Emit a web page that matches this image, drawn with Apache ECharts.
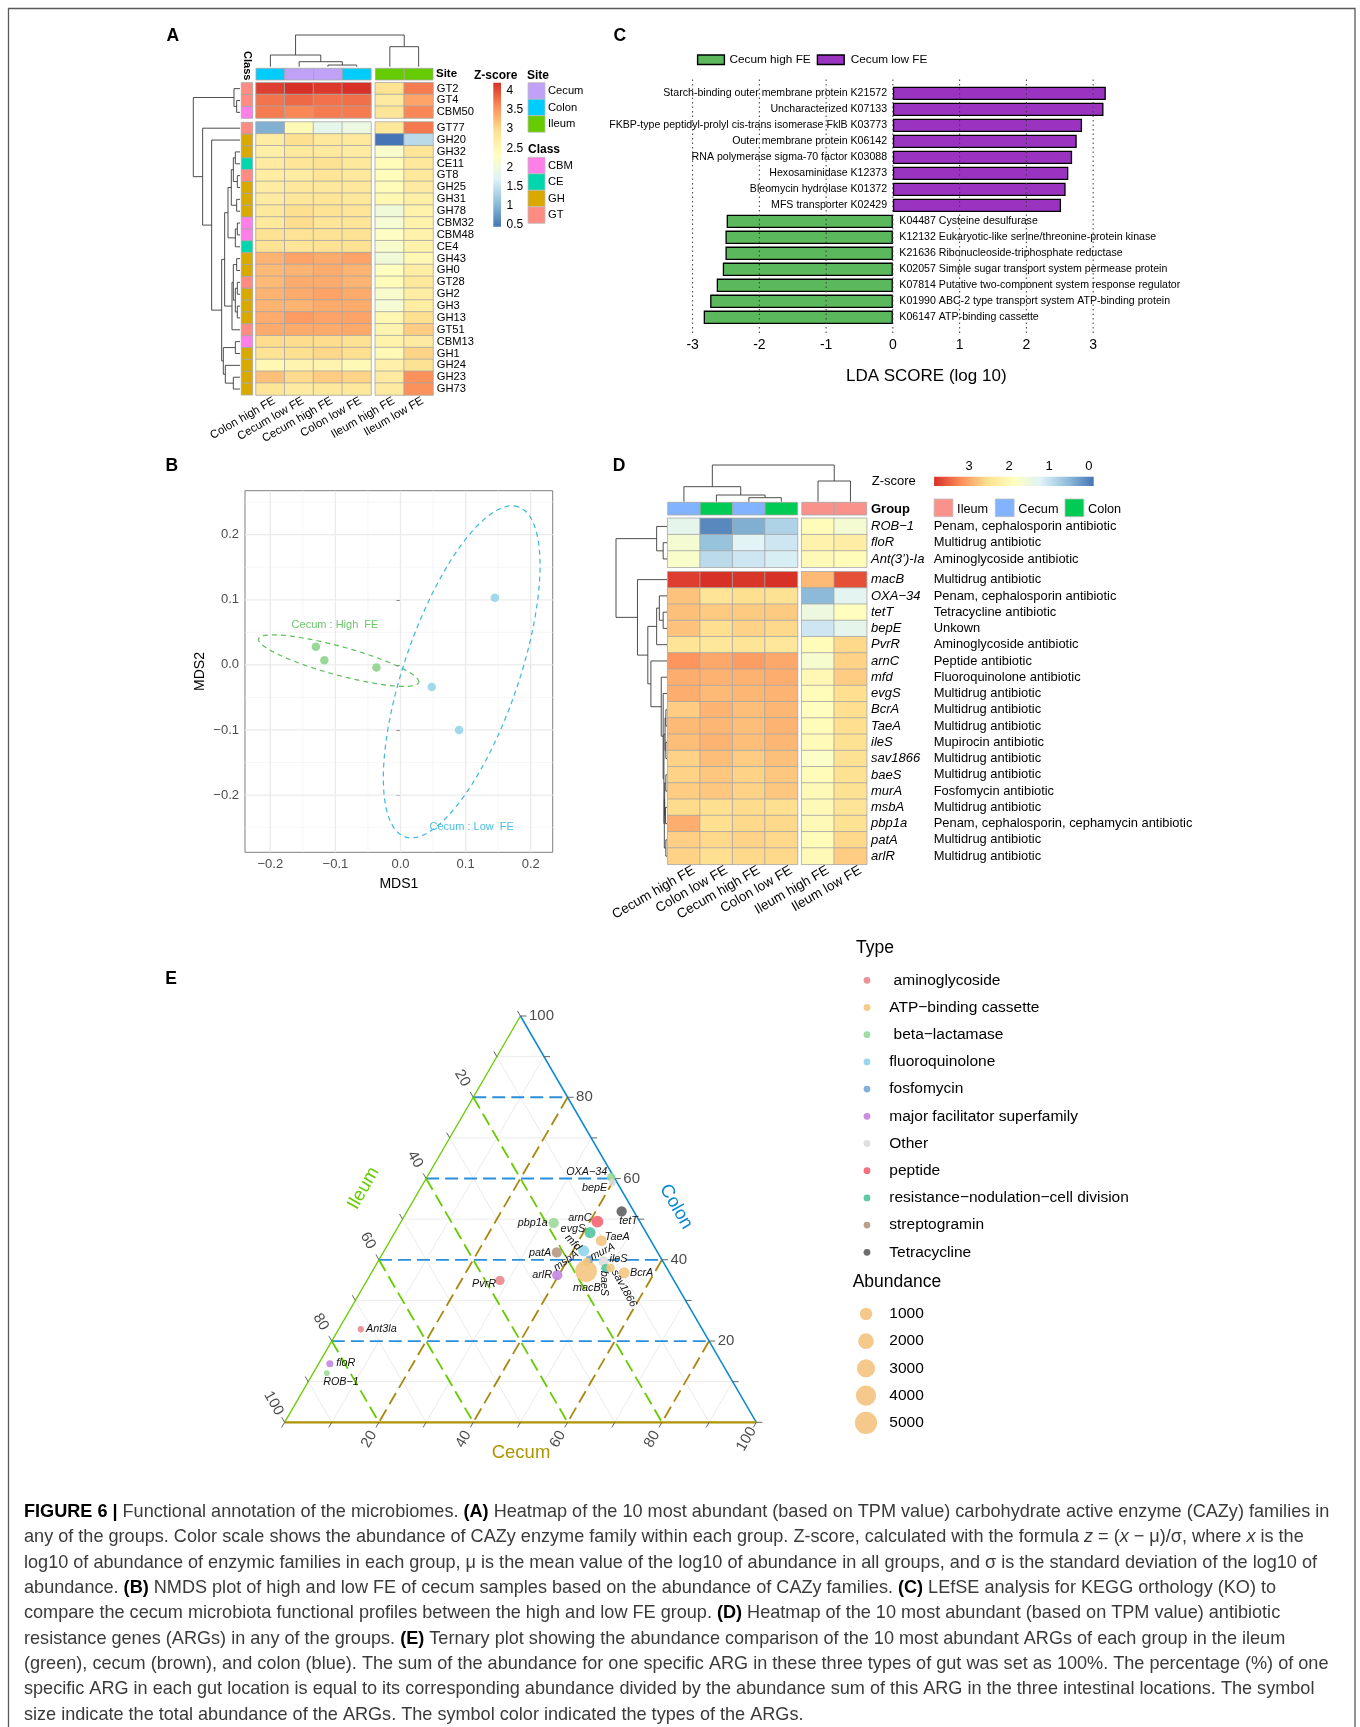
<!DOCTYPE html>
<html>
<head>
<meta charset="utf-8">
<title>Figure 6 – Functional annotation of the microbiomes</title>
<script src="https://cdn.jsdelivr.net/npm/echarts@6.0.0/dist/echarts.min.js"></script>
<style>
  html, body { margin: 0; padding: 0; background: #ffffff; }
  #figure { width: 1360px; height: 1727px; }
</style>
</head>
<body>
<div id="figure"></div>
<script>
// ================= Panel A: CAZy family heatmap =================
const aColumns = ['Colon high FE', 'Cecum low FE', 'Cecum high FE', 'Colon low FE', 'Ileum high FE', 'Ileum low FE'];
const aSites = ['Colon', 'Cecum', 'Cecum', 'Colon', 'Ileum', 'Ileum'];
const aFamilies = ['GT2', 'GT4', 'CBM50', 'GT77', 'GH20', 'GH32', 'CE11', 'GT8', 'GH25', 'GH31', 'GH78', 'CBM32', 'CBM48',
  'CE4', 'GH43', 'GH0', 'GT28', 'GH2', 'GH3', 'GH13', 'GT51', 'CBM13', 'GH1', 'GH24', 'GH23', 'GH73'];
const aZscore = [
  [4.10, 4.21, 4.15, 4.20, 2.90, 3.70],
  [3.75, 3.82, 3.76, 3.78, 2.75, 3.40],
  [3.70, 3.62, 3.70, 3.70, 2.85, 3.62],
  [0.95, 2.45, 1.85, 1.95, 2.80, 3.72],
  [2.72, 2.95, 2.80, 2.78, 0.45, 1.40],
  [2.65, 2.78, 2.78, 2.72, 2.20, 2.85],
  [2.75, 2.85, 2.92, 2.80, 2.40, 2.80],
  [2.70, 2.72, 2.85, 2.80, 2.38, 2.80],
  [2.72, 2.80, 2.80, 2.80, 2.40, 2.75],
  [2.75, 2.82, 2.85, 2.80, 2.50, 2.65],
  [2.80, 2.95, 2.90, 2.85, 2.05, 2.60],
  [2.78, 2.98, 2.85, 2.85, 2.12, 2.58],
  [2.92, 2.90, 2.92, 2.92, 2.28, 2.60],
  [2.90, 2.85, 2.90, 2.92, 2.18, 2.60],
  [3.30, 3.42, 3.36, 3.42, 2.05, 2.48],
  [3.25, 3.30, 3.35, 3.30, 2.32, 2.70],
  [3.25, 3.35, 3.35, 3.30, 2.42, 2.80],
  [3.30, 3.36, 3.42, 3.36, 2.18, 2.70],
  [3.30, 3.30, 3.36, 3.36, 2.12, 2.70],
  [3.35, 3.48, 3.42, 3.42, 2.50, 2.95],
  [3.36, 3.36, 3.36, 3.38, 2.55, 3.10],
  [2.98, 2.98, 2.98, 2.92, 2.60, 2.75],
  [2.90, 2.95, 3.02, 2.95, 2.45, 3.05],
  [2.48, 2.55, 2.55, 2.45, 2.62, 2.92],
  [3.20, 3.00, 3.10, 3.05, 2.75, 3.55],
  [2.85, 2.75, 2.80, 2.80, 2.75, 3.55]
];
const aZscoreRange = [0.45, 4.21];
const aLegendTicks = [0.5, 1, 1.5, 2, 2.5, 3, 3.5, 4];
// merges: [node, node, height]; leaves first, then merged nodes in order
const aColumnTree = [[2, 3, 5], [1, 6, 15], [0, 7, 35], [4, 5, 60], [8, 9, 95]];
const aRowTree = [
  [1, 2, 10], [0, 26, 18], [5, 6, 14], [7, 8, 8], [28, 29, 20], [9, 10, 10], [30, 31, 26],
  [11, 12, 8], [33, 13, 14], [32, 34, 36], [14, 15, 10], [16, 17, 8], [18, 19, 8], [37, 38, 14],
  [36, 39, 20], [40, 20, 24], [35, 41, 46], [21, 22, 14], [24, 25, 20], [23, 44, 44], [43, 45, 50],
  [42, 46, 55], [4, 47, 85], [3, 48, 112], [27, 49, 140]
];
const aSiteNames = ['Cecum', 'Colon', 'Ileum'];
const aClassNames = ['CBM', 'CE', 'GH', 'GT'];

// ================= Panel B: NMDS =================
const bHighFE = [[-0.130, 0.028], [-0.117, 0.007], [-0.037, -0.004]];
const bLowFE = [[0.145, 0.103], [0.048, -0.034], [0.090, -0.100]];
const bGroups = ['Cecum : High  FE', 'Cecum : Low  FE'];
const bEllipseCenter = [[-0.095, 0.0065], [0.094, -0.0107]];
const bEllipseMajor = [[0.123, -0.0335], [0.087, 0.2535]];
const bEllipseMinor = [0.022, 0.088];
const bGroupLabelAt = [[-0.1006, 0.061], [0.1094, -0.2498]];
const bTicks = [-0.2, -0.1, 0, 0.1, 0.2];
const bMinorX = [-0.15, -0.05, 0.05, 0.15];
const bMinorY = [-0.25, -0.15, -0.05, 0.05, 0.15, 0.25];

// ================= Panel C: LEfSe =================
const cTerms = [
  'Starch-binding outer membrane protein K21572',
  'Uncharacterized K07133',
  'FKBP-type peptidyl-prolyl cis-trans isomerase FklB K03773',
  'Outer membrane protein K06142',
  'RNA polymerase sigma-70 factor K03088',
  'Hexosaminidase K12373',
  'Bleomycin hydrolase K01372',
  'MFS transporter K02429',
  'K04487 Cysteine desulfurase',
  'K12132 Eukaryotic-like serine/threonine-protein kinase',
  'K21636 Ribonucleoside-triphosphate reductase',
  'K02057 Simple sugar transport system permease protein',
  'K07814 Putative two-component system response regulator',
  'K01990 ABC-2 type transport system ATP-binding protein',
  'K06147 ATP-binding cassette'
];
const cLdaScore = [3.19, 3.155, 2.834, 2.754, 2.685, 2.628, 2.588, 2.519,
  -2.49, -2.508, -2.508, -2.548, -2.639, -2.737, -2.834];
const cTicks = [-3, -2, -1, 0, 1, 2, 3];
const cGroups = ['Cecum high FE', 'Cecum low FE'];

// ================= Panel D: ARG heatmap =================
const dColumns = ['Cecum high FE', 'Colon low FE', 'Cecum high FE', 'Colon low FE', 'Ileum high FE', 'Ileum low FE'];
const dGroups = ['Cecum', 'Colon', 'Cecum', 'Colon', 'Ileum', 'Ileum'];
const dGenes = ['ROB\u22121', 'floR', 'Ant(3\u2019)-Ia', 'macB', 'OXA\u221234', 'tetT', 'bepE', 'PvrR', 'arnC', 'mfd',
  'evgS', 'BcrA', 'TaeA', 'ileS', 'sav1866', 'baeS', 'murA', 'msbA', 'pbp1a', 'patA', 'arlR'];
const dDrugClass = ['Penam, cephalosporin antibiotic', 'Multidrug antibiotic', 'Aminoglycoside antibiotic',
  'Multidrug antibiotic', 'Penam, cephalosporin antibiotic', 'Tetracycline antibiotic', 'Unkown',
  'Aminoglycoside antibiotic', 'Peptide antibiotic', 'Fluoroquinolone antibiotic', 'Multidrug antibiotic',
  'Multidrug antibiotic', 'Multidrug antibiotic', 'Mupirocin antibiotic', 'Multidrug antibiotic',
  'Multidrug antibiotic', 'Fosfomycin antibiotic', 'Multidrug antibiotic',
  'Penam, cephalosporin, cephamycin antibiotic', 'Multidrug antibiotic', 'Multidrug antibiotic'];
const dZscore = [
  [1.35, 0.05, 0.40, 0.80, 1.95, 1.65],
  [1.65, 0.60, 1.25, 1.05, 2.15, 2.25],
  [1.75, 0.90, 1.05, 1.15, 2.00, 1.95],
  [3.78, 3.88, 3.84, 3.88, 2.85, 3.65],
  [2.78, 2.45, 2.55, 2.50, 0.50, 1.30],
  [2.80, 2.72, 2.72, 2.72, 1.50, 1.90],
  [2.78, 2.55, 2.65, 2.60, 1.05, 1.35],
  [2.45, 2.40, 2.45, 2.40, 1.95, 2.60],
  [3.15, 3.00, 3.08, 3.00, 1.70, 2.65],
  [2.95, 2.92, 2.92, 2.95, 2.05, 2.70],
  [2.95, 2.85, 2.88, 2.90, 1.95, 2.55],
  [2.70, 2.90, 2.82, 2.88, 1.90, 2.55],
  [2.85, 2.88, 2.82, 2.90, 1.95, 2.55],
  [2.82, 2.90, 2.82, 2.88, 1.98, 2.50],
  [2.65, 2.82, 2.70, 2.80, 1.80, 2.50],
  [2.65, 2.75, 2.65, 2.75, 1.95, 2.50],
  [2.70, 2.75, 2.65, 2.75, 2.00, 2.50],
  [2.58, 2.55, 2.58, 2.55, 2.00, 2.45],
  [2.95, 2.55, 2.60, 2.60, 2.00, 2.50],
  [2.68, 2.60, 2.65, 2.60, 1.95, 2.60],
  [2.65, 2.55, 2.60, 2.60, 2.00, 2.70]
];
const dZscoreRange = [-0.12, 3.88];
const dLegendTicks = [0, 1, 2, 3];
const dColumnTree = [[2, 3, 12], [1, 6, 20], [0, 7, 45], [4, 5, 62], [8, 9, 110]];
const dRowTree = [
  [1, 2, 10], [0, 21, 27], [5, 6, 10], [4, 23, 20], [24, 7, 27], [11, 12, 3], [13, 14, 3], [26, 27, 5],
  [15, 16, 3], [17, 18, 4], [29, 30, 6], [19, 20, 3], [31, 32, 7], [28, 33, 8], [10, 34, 10], [9, 35, 15],
  [8, 36, 42], [25, 37, 50], [3, 38, 77], [22, 39, 133]
];
const dGroupNames = ['Ileum', 'Cecum', 'Colon'];

// ================= Panel E: ternary plot of ARGs =================
const eGenes = ['OXA\u221234', 'bepE', 'tetT', 'arnC', 'pbp1a', 'evgS', 'TaeA', 'mfd', 'patA', 'murA', 'msbA',
  'ileS', 'macB', 'baeS', 'sav1866', 'BcrA', 'arlR', 'PvrR', 'Ant3la', 'floR', 'ROB\u22121'];
const eIleum = [0.6, 1.0, 2.6, 9.0, 18.4, 11.9, 10.5, 15.5, 21.4, 15.3, 16.2, 12.6, 17.5, 13.0, 11.9, 9.6, 24.1, 36.9, 72.4, 83.2, 85.0];
const eCecum = [39.1, 40.0, 45.5, 41.6, 32.5, 41.4, 44.8, 42.3, 36.8, 44.6, 44.3, 47.8, 45.3, 49.1, 50.1, 53.6, 39.7, 28.2, 4.7, 2.4, 2.9];
const eColon = [60.3, 59.0, 51.9, 49.4, 49.1, 46.7, 44.7, 42.2, 41.8, 40.1, 39.5, 39.6, 37.2, 37.9, 38.0, 36.8, 36.2, 34.9, 22.9, 14.4, 12.1];
const eAbundance = [275, 110, 540, 875, 540, 680, 680, 680, 540, 190, 190, 540, 4800, 275, 275, 680, 540, 400, 50, 110, 20];
const eType = ['beta\u2212lactamase', 'Other', 'Tetracycline', 'peptide', 'beta\u2212lactamase',
  'resistance\u2212nodulation\u2212cell division', 'ATP\u2212binding cassette', 'fluoroquinolone', 'streptogramin',
  'fosfomycin', 'ATP\u2212binding cassette', 'Other', 'ATP\u2212binding cassette',
  'resistance\u2212nodulation\u2212cell division', 'ATP\u2212binding cassette', 'ATP\u2212binding cassette',
  'major facilitator superfamily', 'aminoglycoside', 'aminoglycoside', 'major facilitator superfamily', 'beta\u2212lactamase'];
const eTypes = ['aminoglycoside', 'ATP\u2212binding cassette', 'beta\u2212lactamase', 'fluoroquinolone', 'fosfomycin',
  'major facilitator superfamily', 'Other', 'peptide', 'resistance\u2212nodulation\u2212cell division', 'streptogramin', 'Tetracycline'];
const eTypeLegendLabels = [' aminoglycoside', 'ATP\u2212binding cassette', ' beta\u2212lactamase', 'fluoroquinolone', 'fosfomycin',
  'major facilitator superfamily', 'Other', 'peptide', 'resistance\u2212nodulation\u2212cell division', 'streptogramin', 'Tetracycline'];
const eSizeLegend = [1000, 2000, 3000, 4000, 5000];
const eGridValues = [10, 20, 30, 40, 50, 60, 70, 80, 90];
const eTicks = [0, 10, 20, 30, 40, 50, 60, 70, 80, 90, 100];
const eTickLabels = [20, 40, 60, 80, 100];

// ================= styling =================
const FONT = "'Liberation Sans', Arial, Helvetica, sans-serif";
const RDYLBU = ['#4575B4', '#91BFDB', '#E0F3F8', '#FFFFBF', '#FEE090', '#FC8D59', '#D73027'];
const SITE_COLORS = {Cecum: '#C0A1F7', Colon: '#00CCFF', Ileum: '#66CC00'};
const CLASS_COLORS = {CBM: '#FF7FE8', CE: '#00D6AE', GH: '#DAA900', GT: '#FF8C82'};
const GROUP_COLORS = {Ileum: '#F9928B', Cecum: '#81B3FF', Colon: '#00CC55'};
const C_COLORS = {'Cecum high FE': '#5CB85C', 'Cecum low FE': '#9933C0'};
const E_TYPE_COLORS = ['#E8868A', '#F5C47E', '#98D898', '#8DD3EC', '#74A6D8', '#C283DE', '#DCDCDC', '#F4606E', '#4CC49E', '#B3957F', '#5C5C5C'];
const E_ILEUM = '#66CC00', E_CECUM = '#AD9400', E_CECUM_DASH = '#A8890E', E_COLON = '#0A88D0', E_COLON_DASH = '#2A8FDB';

const grid = [], xAxis = [], yAxis = [], series = [], graphic = [];

function addGrid(x1, y1, x2, y2, extra) {
  grid.push(Object.assign({left: x1, top: y1, width: x2 - x1, height: y2 - y1}, extra || {}));
  return grid.length - 1;
}
function hiddenValueAxis(gi, min, max, inverse) {
  return {type: 'value', gridIndex: gi, min: min, max: max, inverse: !!inverse, show: false};
}
function categoryAxis(gi, data, extra) {
  return Object.assign({type: 'category', gridIndex: gi, data: data,
    axisLine: {show: false}, axisTick: {show: false}, splitLine: {show: false}, axisLabel: {show: false}}, extra || {});
}
// one heatmap block; column names go on a companion axis nudged by labelShift px
function heatBlock(z, rowNames, colNames, r0, r1, c0, c1, xs, ys, xLabel, yLabel, labelShift) {
  const gi = addGrid(xs[0], ys[0], xs[1], ys[1]);
  xAxis.push(categoryAxis(gi, colNames.slice(c0, c1)));
  yAxis.push(categoryAxis(gi, rowNames.slice(r0, r1), Object.assign({inverse: true, position: 'right'}, yLabel ? {axisLabel: yLabel} : {})));
  const data = [];
  for (let r = r0; r < r1; r++) for (let c = c0; c < c1; c++) data.push([c - c0, r - r0, z[r][c]]);
  series.push({type: 'heatmap', xAxisIndex: gi, yAxisIndex: gi, data: data, silent: true,
    itemStyle: {borderColor: '#A6A6A6', borderWidth: 0.8}, emphasis: {disabled: true}});
  const idx = series.length - 1;
  if (xLabel) {
    const s = labelShift || 0;
    const gl = addGrid(xs[0] + s, ys[0], xs[1] + s, ys[1]);
    xAxis.push(categoryAxis(gl, colNames.slice(c0, c1), {axisLabel: xLabel}));
    yAxis.push(hiddenValueAxis(gl, 0, 1));
  }
  return idx;
}
function dendrogram(gi, tree, nLeaves, leafPos, horizontal) {
  const nodes = [];
  for (let i = 0; i < nLeaves; i++) nodes.push({p: leafPos(i), h: 0});
  const segs = [];
  tree.forEach(function (m) {
    const A = nodes[m[0]], B = nodes[m[1]], h = m[2];
    segs.push([A.p, A.h, A.p, h], [A.p, h, B.p, h], [B.p, B.h, B.p, h]);
    nodes.push({p: (A.p + B.p) / 2, h: h});
  });
  series.push({type: 'custom', xAxisIndex: gi, yAxisIndex: gi, data: segs, silent: true,
    renderItem: function (params, api) {
      const a = [api.value(0), api.value(1)], b = [api.value(2), api.value(3)];
      const p = api.coord(horizontal ? [a[1], a[0]] : a);
      const q = api.coord(horizontal ? [b[1], b[0]] : b);
      return {type: 'line', shape: {x1: p[0], y1: p[1], x2: q[0], y2: q[1]}, style: {stroke: '#3A3A3A', lineWidth: 0.9}};
    }});
}
function annotationBar(gi, values, colorMap, pos, vertical) {
  series.push({type: 'custom', xAxisIndex: gi, yAxisIndex: gi, silent: true,
    data: values.map(function (v, i) { return [pos(i), i]; }),
    renderItem: function (params, api) {
      const c = api.value(0);
      const a = vertical ? api.coord([0, c - 0.5]) : api.coord([c - 0.5, 1]);
      const b = vertical ? api.coord([1, c + 0.5]) : api.coord([c + 0.5, 0]);
      return {type: 'rect',
        shape: {x: Math.min(a[0], b[0]), y: Math.min(a[1], b[1]), width: Math.abs(b[0] - a[0]), height: Math.abs(b[1] - a[1])},
        style: {fill: colorMap[values[api.value(1)]], stroke: '#A6A6A6', lineWidth: 0.8}};
    }});
}
function colorBar(gi, range, colors, vertical) {
  const stops = colors.map(function (c, i) { return {offset: i / (colors.length - 1), color: c}; });
  series.push({type: 'custom', xAxisIndex: gi, yAxisIndex: gi, silent: true, data: [[0, 0]],
    renderItem: function (params, api) {
      let a, b, grad;
      if (vertical) {
        a = api.coord([0, range[1]]); b = api.coord([1, range[0]]);
        grad = {type: 'linear', x: 0, y: 1, x2: 0, y2: 0, colorStops: stops};
      } else {
        a = api.coord([range[1], 1]); b = api.coord([range[0], 0]);
        grad = {type: 'linear', x: 1, y: 0, x2: 0, y2: 0, colorStops: stops};
      }
      return {type: 'rect',
        shape: {x: Math.min(a[0], b[0]), y: Math.min(a[1], b[1]), width: Math.abs(b[0] - a[0]), height: Math.abs(b[1] - a[1])},
        style: {fill: grad}};
    }});
}
function gText(x, y, text, style, extra) {
  const st = Object.assign({text: text, fill: '#000', fontSize: 12, fontFamily: FONT, align: 'left', verticalAlign: 'middle'}, style || {});
  st.textAlign = st.align; st.textVerticalAlign = st.verticalAlign;
  graphic.push(Object.assign({type: 'text', x: x, y: y, silent: true, style: st}, extra || {}));
}
function gRect(x, y, w, h, fill, stroke, lw) {
  graphic.push({type: 'rect', silent: true, shape: {x: x, y: y, width: w, height: h},
    style: {fill: fill, stroke: stroke || null, lineWidth: lw || 0}});
}
function gCircle(cx, cy, r, fill, opacity) {
  graphic.push({type: 'circle', silent: true, shape: {cx: cx, cy: cy, r: r}, style: {fill: fill, opacity: opacity == null ? 1 : opacity}});
}

// ---------------- Panel A ----------------
const aGapCol = 0.15, aGapRow = 0.337;
const aColPos = function (i) { return i + 0.5 + (i >= 4 ? aGapCol : 0); };
const aRowPos = function (i) { return i + 0.5 + (i >= 3 ? aGapRow : 0); };
const aRowLabel = {show: true, fontSize: 11.2, color: '#000', margin: 3.7, align: 'left', interval: 0, fontFamily: FONT};
const aColLabel = {show: true, fontSize: 11.5, color: '#000', rotate: 30, margin: 5, interval: 0, fontFamily: FONT};
const aHeatIdx = [
  heatBlock(aZscore, aFamilies, aColumns, 0, 3, 0, 4, [256, 371], [82.7, 118], null, null),
  heatBlock(aZscore, aFamilies, aColumns, 0, 3, 4, 6, [375.3, 433], [82.7, 118], null, aRowLabel),
  heatBlock(aZscore, aFamilies, aColumns, 3, 26, 0, 4, [256, 371], [122, 395], aColLabel, null, 4),
  heatBlock(aZscore, aFamilies, aColumns, 3, 26, 4, 6, [375.3, 433], [122, 395], aColLabel, aRowLabel, 4)
];
let gi = addGrid(256, 35, 433, 66.7);
xAxis.push(hiddenValueAxis(gi, 0, 6 + aGapCol)); yAxis.push(hiddenValueAxis(gi, 0, 95));
dendrogram(gi, aColumnTree, 6, aColPos, false);

gi = addGrid(193.3, 82.7, 240, 395);
xAxis.push(hiddenValueAxis(gi, 0, 140, true)); yAxis.push(hiddenValueAxis(gi, 0, 26 + aGapRow, true));
dendrogram(gi, aRowTree, 26, aRowPos, true);

gi = addGrid(256, 68.3, 433, 80);
xAxis.push(hiddenValueAxis(gi, 0, 6 + aGapCol)); yAxis.push(hiddenValueAxis(gi, 0, 1));
annotationBar(gi, aSites, SITE_COLORS, aColPos, false);

gi = addGrid(241.3, 82.7, 252.7, 395);
xAxis.push(hiddenValueAxis(gi, 0, 1)); yAxis.push(hiddenValueAxis(gi, 0, 26 + aGapRow, true));
annotationBar(gi, aFamilies.map(function (f) { return f.match(/^(CBM|CE|GH|GT)/)[1]; }), CLASS_COLORS, aRowPos, true);

gi = addGrid(493.3, 82.7, 501, 226.7);
xAxis.push(hiddenValueAxis(gi, 0, 1));
yAxis.push({type: 'value', gridIndex: gi, min: aZscoreRange[0], max: aZscoreRange[1], position: 'right',
  axisLine: {show: false}, axisTick: {show: false}, splitLine: {show: false},
  axisLabel: {customValues: aLegendTicks, fontSize: 12, color: '#000', margin: 5.5, fontFamily: FONT}});
colorBar(gi, aZscoreRange, RDYLBU, true);

gText(436, 74.2, 'Site', {fontWeight: 'bold', fontSize: 11.5});
gText(247, 65.8, 'Class', {fontWeight: 'bold', fontSize: 11, align: 'center'}, {rotation: -Math.PI / 2});
gText(474, 75.7, 'Z-score', {fontWeight: 'bold', fontSize: 12});
gText(527, 75.7, 'Site', {fontWeight: 'bold', fontSize: 12});
aSiteNames.forEach(function (s, i) {
  gRect(528, 82.7 + 16.5 * i, 17, 16.5, SITE_COLORS[s], '#BDBDBD', 0.8);
  gText(548, 91 + 16.5 * i, s, {fontSize: 11.2});
});
gText(528, 149.3, 'Class', {fontWeight: 'bold', fontSize: 12});
aClassNames.forEach(function (s, i) {
  gRect(528, 157.3 + 16.5 * i, 17, 16.5, CLASS_COLORS[s], '#BDBDBD', 0.8);
  gText(548, 165.6 + 16.5 * i, s, {fontSize: 11.2});
});

// ---------------- Panel B ----------------
const B_X = [-0.2389, 0.2338], B_Y = [-0.288, 0.2676];
const bFmt = function (v) { return (v < 0 ? '\u2212' : '') + Math.abs(v).toFixed(1); };
gi = addGrid(245, 490.7, 552.7, 852.3, {show: true, backgroundColor: '#FFFFFF', borderColor: '#7F7F7F', borderWidth: 1});
const giB = gi;
xAxis.push({type: 'value', gridIndex: gi, min: B_X[0], max: B_X[1], axisLine: {show: false}, splitLine: {show: false},
  axisTick: {show: true, customValues: bTicks, length: 4, lineStyle: {color: '#333', width: 1}},
  axisLabel: {customValues: bTicks, formatter: bFmt, fontSize: 13, color: '#4D4D4D', margin: 6, fontFamily: FONT},
  name: 'MDS1', nameLocation: 'middle', nameGap: 25, nameTextStyle: {fontSize: 14, color: '#000', fontFamily: FONT}});
yAxis.push({type: 'value', gridIndex: gi, min: B_Y[0], max: B_Y[1], axisLine: {show: false}, splitLine: {show: false},
  axisTick: {show: true, customValues: bTicks, length: 4, lineStyle: {color: '#333', width: 1}},
  axisLabel: {customValues: bTicks, formatter: bFmt, fontSize: 13, color: '#4D4D4D', margin: 6, fontFamily: FONT},
  name: 'MDS2', nameLocation: 'middle', nameGap: 38, nameRotate: 90, nameTextStyle: {fontSize: 14, color: '#000', fontFamily: FONT}});
const bGridData = [];
bMinorX.forEach(function (v) { bGridData.push([0, v, 0]); });
bMinorY.forEach(function (v) { bGridData.push([1, v, 0]); });
bTicks.forEach(function (v) { bGridData.push([0, v, 1]); bGridData.push([1, v, 1]); });
series.push({type: 'custom', xAxisIndex: giB, yAxisIndex: giB, silent: true, data: bGridData,
  renderItem: function (params, api) {
    const vert = api.value(0) === 0, v = api.value(1), major = api.value(2) === 1;
    const p = api.coord(vert ? [v, B_Y[0]] : [B_X[0], v]);
    const q = api.coord(vert ? [v, B_Y[1]] : [B_X[1], v]);
    return {type: 'line', shape: {x1: p[0], y1: p[1], x2: q[0], y2: q[1]},
      style: {stroke: major ? '#EBEBEB' : '#F2F2F2', lineWidth: major ? 1.3 : 0.7}};
  }});
const B_LINE = ['#5DBE5D', '#3DB6DE'], B_TEXT = ['#6CC66C', '#4CC0E4'];
series.push({type: 'custom', xAxisIndex: giB, yAxisIndex: giB, silent: true,
  data: bEllipseCenter.map(function (c, i) { return [c[0], c[1], i]; }),
  renderItem: function (params, api) {
    const i = api.value(2), c = bEllipseCenter[i], u = bEllipseMajor[i], b = bEllipseMinor[i];
    const len = Math.hypot(u[0], u[1]);
    const v = [-u[1] / len * b, u[0] / len * b];
    const pts = [];
    for (let k = 0; k <= 120; k++) {
      const t = k / 120 * 2 * Math.PI;
      pts.push(api.coord([c[0] + u[0] * Math.cos(t) + v[0] * Math.sin(t), c[1] + u[1] * Math.cos(t) + v[1] * Math.sin(t)]));
    }
    return {type: 'polyline', shape: {points: pts}, style: {stroke: B_LINE[i], lineWidth: 1.2, lineDash: [5, 4], fill: null}};
  }});
series.push({type: 'scatter', xAxisIndex: giB, yAxisIndex: giB, data: bHighFE, symbolSize: 8.5, silent: true,
  itemStyle: {color: '#93D593', opacity: 0.95}});
series.push({type: 'scatter', xAxisIndex: giB, yAxisIndex: giB, data: bLowFE, symbolSize: 8.5, silent: true,
  itemStyle: {color: '#9AD7EA', opacity: 0.95}});
series.push({type: 'custom', xAxisIndex: giB, yAxisIndex: giB, silent: true,
  data: bGroupLabelAt.map(function (p, i) { return [p[0], p[1], i]; }),
  renderItem: function (params, api) {
    const i = api.value(2), p = api.coord([api.value(0), api.value(1)]);
    return {type: 'text', x: p[0], y: p[1], style: {text: bGroups[i], fill: B_TEXT[i], fontSize: 11, fontFamily: FONT,
      align: 'center', verticalAlign: 'middle', textAlign: 'center', textVerticalAlign: 'middle'}};
  }});

// ---------------- Panel C ----------------
const C_LEFT = 692.6, C_RIGHT = 1159.9;
const LEFSE_FONT = {fontFamily: FONT, fontSize: 10.6};
gi = addGrid(C_LEFT, 78.3, C_RIGHT, 333);
const giC2 = gi;
xAxis.push({type: 'value', gridIndex: gi, min: -3, max: 4, interval: 1, axisLine: {show: false}, axisTick: {show: false},
  splitLine: {show: false},
  axisLabel: {customValues: cTicks, fontSize: 14, color: '#000', margin: 5, fontFamily: FONT},
  name: 'LDA SCORE (log 10)', nameLocation: 'middle', nameGap: 34.5, nameTextStyle: {fontSize: 17, color: '#000', fontFamily: FONT}});
yAxis.push(hiddenValueAxis(gi, 0, 1));
gi = addGrid(C_LEFT, 85.4, C_RIGHT, 325.3);
const giC = gi;
xAxis.push(hiddenValueAxis(gi, -3, 4));
yAxis.push({type: 'category', gridIndex: gi, data: cTerms, inverse: true, show: false});
series.push({type: 'bar', name: cGroups[1], xAxisIndex: giC, yAxisIndex: giC, silent: true,
  data: cLdaScore.map(function (v) { return v > 0 ? v : '-'; }), barGap: '-100%', barCategoryGap: '16%',
  itemStyle: {color: C_COLORS[cGroups[1]], borderColor: '#000', borderWidth: 1.3},
  label: Object.assign({show: true, position: 'left', distance: 5.8, color: '#000',
    formatter: function (p) { return cTerms[p.dataIndex]; }}, LEFSE_FONT)});
series.push({type: 'bar', name: cGroups[0], xAxisIndex: giC, yAxisIndex: giC, silent: true,
  data: cLdaScore.map(function (v) { return v < 0 ? v : '-'; }), barGap: '-100%', barCategoryGap: '16%',
  itemStyle: {color: C_COLORS[cGroups[0]], borderColor: '#000', borderWidth: 1.3},
  label: Object.assign({show: true, position: 'right', distance: 6.5, color: '#000',
    formatter: function (p) { return cTerms[p.dataIndex]; }}, LEFSE_FONT)});
series.push({type: 'custom', xAxisIndex: giC2, yAxisIndex: giC2, silent: true, z: 5,
  data: cTicks.map(function (v) { return [v, 0]; }),
  renderItem: function (params, api) {
    const p = api.coord([api.value(0), 0]), q = api.coord([api.value(0), 1]);
    return {type: 'line', shape: {x1: p[0], y1: p[1], x2: q[0], y2: q[1]},
      style: {stroke: '#3C3C3C', lineWidth: 1, lineDash: [1.5, 3]}};
  }});
gRect(697.6, 55, 26.8, 9.5, C_COLORS[cGroups[0]], '#000', 1.4);
gText(729.4, 59.7, cGroups[0], {fontSize: 11.8});
gRect(817.4, 55, 26.8, 9.5, C_COLORS[cGroups[1]], '#000', 1.4);
gText(850.7, 59.7, cGroups[1], {fontSize: 11.8});

// ---------------- Panel D ----------------
const D_L = [667.7, 797.5], D_R = [801.7, 866.7];
const dGapCol = 0.13, dGapRow = 0.27;
const dColPos = function (i) { return i + 0.5 + (i >= 4 ? dGapCol : 0); };
const dRowPos = function (i) { return i + 0.5 + (i >= 3 ? dGapRow : 0); };
const dColLabel = {show: true, fontSize: 13.5, color: '#000', rotate: 30, margin: 5, interval: 0, fontFamily: FONT};
function dRowLabel(r0) {
  return {show: true, interval: 0, margin: 4.3, align: 'left', color: '#000', fontFamily: FONT,
    formatter: function (v, i) { return '{n|' + v + '}{d|' + dDrugClass[r0 + i] + '}'; },
    rich: {n: {fontStyle: 'italic', fontSize: 13, width: 62.7, fontFamily: FONT, color: '#000'},
      d: {fontSize: 12.9, fontFamily: FONT, color: '#000'}}};
}
const dHeatIdx = [
  heatBlock(dZscore, dGenes, dColumns, 0, 3, 0, 4, D_L, [518.3, 567.3], null, null),
  heatBlock(dZscore, dGenes, dColumns, 0, 3, 4, 6, D_R, [518.3, 567.3], null, dRowLabel(0)),
  heatBlock(dZscore, dGenes, dColumns, 3, 21, 0, 4, D_L, [571.7, 864.3], dColLabel, null, 10),
  heatBlock(dZscore, dGenes, dColumns, 3, 21, 4, 6, D_R, [571.7, 864.3], dColLabel, dRowLabel(3), 10)
];
gi = addGrid(D_L[0], 465, D_R[1], 501.7);
xAxis.push(hiddenValueAxis(gi, 0, 6 + dGapCol)); yAxis.push(hiddenValueAxis(gi, 0, 110));
dendrogram(gi, dColumnTree, 6, dColPos, false);

gi = addGrid(616, 518.3, 667, 864.3);
xAxis.push(hiddenValueAxis(gi, 0, 133, true)); yAxis.push(hiddenValueAxis(gi, 0, 21 + dGapRow, true));
dendrogram(gi, dRowTree, 21, dRowPos, true);

gi = addGrid(D_L[0], 502.3, D_R[1], 515);
xAxis.push(hiddenValueAxis(gi, 0, 6 + dGapCol)); yAxis.push(hiddenValueAxis(gi, 0, 1));
annotationBar(gi, dGroups, GROUP_COLORS, dColPos, false);

gi = addGrid(934.1, 476.7, 1093.7, 486);
xAxis.push({type: 'value', gridIndex: gi, min: dZscoreRange[0], max: dZscoreRange[1], inverse: true, position: 'top',
  axisLine: {show: false}, axisTick: {show: false}, splitLine: {show: false},
  axisLabel: {customValues: dLegendTicks, fontSize: 13, color: '#000', margin: 3.5, fontFamily: FONT}});
yAxis.push(hiddenValueAxis(gi, 0, 1));
colorBar(gi, dZscoreRange, RDYLBU, false);

gText(871.7, 481.7, 'Z-score', {fontSize: 13});
gText(871, 509.3, 'Group', {fontSize: 13, fontWeight: 'bold'});
const dLegendX = [934.1, 995.3, 1065];
dGroupNames.forEach(function (g, i) {
  gRect(dLegendX[i], 499, 18.8, 17.7, GROUP_COLORS[g], '#BDBDBD', 0.8);
  gText(dLegendX[i] + 23, 509.5, g, {fontSize: 12.7});
});

// ---------------- Panel E ----------------
function tern(il, ce, co) { const s = il + ce + co; return [(ce + co / 2) / s, co / s]; }
function unit(dx, dy) { const l = Math.hypot(dx, dy); return [dx / l, dy / l]; }
function eSymbolSize(ab) { return 4.5 + 0.25 * Math.sqrt(ab); }
function eTypeColor(t) { return E_TYPE_COLORS[eTypes.indexOf(t)]; }
function eLineEnds(kind, v) {
  if (kind === 0) return [tern(100 - v, 0, v), tern(0, 100 - v, v)];
  if (kind === 1) return [tern(v, 0, 100 - v), tern(v, 100 - v, 0)];
  return [tern(0, v, 100 - v), tern(100 - v, v, 0)];
}
const eLabelOffset = {
  'OXA\u221234': [-24.5, -5.6, 0], 'bepE': [-17.8, 5, 0], 'tetT': [6.8, 9.3, 0], 'arnC': [-17.4, -3.4, 0],
  'pbp1a': [-21, 0, 0], 'evgS': [-17.1, -3.6, 0], 'TaeA': [15.9, -4, 0], 'mfd': [-10.7, -8.3, -45],
  'patA': [-16.6, 0.6, 0], 'murA': [13, -7.6, 26], 'msbA': [-20.6, -1, 35], 'ileS': [15.1, -2.7, 0],
  'macB': [0.8, 17, 0], 'baeS': [-2, 15, -90], 'sav1866': [13.5, 20.6, -61], 'BcrA': [17.4, 0, 0],
  'arlR': [-15.1, -0.7, 0], 'PvrR': [-15.9, 3.6, 0], 'Ant3la': [20.6, 0, 0], 'floR': [15.9, -0.7, 0],
  'ROB\u22121': [14.2, 9, 0]
};
gi = addGrid(284.6, 1016, 756.3, 1422.3);
const giE = gi;
xAxis.push(hiddenValueAxis(gi, 0, 1)); yAxis.push(hiddenValueAxis(gi, 0, 1));
const eMinor = [], eMajor = [];
[0, 1, 2].forEach(function (k) {
  eGridValues.forEach(function (v) { (v % 20 === 0 ? eMajor : eMinor).push([k, v]); });
});
series.push({type: 'custom', xAxisIndex: giE, yAxisIndex: giE, silent: true, data: eMinor,
  renderItem: function (params, api) {
    const e = eLineEnds(api.value(0), api.value(1)), p = api.coord(e[0]), q = api.coord(e[1]);
    return {type: 'line', shape: {x1: p[0], y1: p[1], x2: q[0], y2: q[1]}, style: {stroke: '#E6E6E6', lineWidth: 0.8}};
  }});
const E_DASH_COLORS = [E_COLON_DASH, E_ILEUM, E_CECUM_DASH];
series.push({type: 'custom', xAxisIndex: giE, yAxisIndex: giE, silent: true, data: eMajor,
  renderItem: function (params, api) {
    const k = api.value(0), e = eLineEnds(k, api.value(1)), p = api.coord(e[0]), q = api.coord(e[1]);
    return {type: 'line', shape: {x1: p[0], y1: p[1], x2: q[0], y2: q[1]},
      style: {stroke: E_DASH_COLORS[k], lineWidth: 1.8, lineDash: [13, 6]}};
  }});
const eEdges = [[[0.5, 1], [0, 0], E_ILEUM, 1.3], [[0.5, 1], [1, 0], E_COLON, 1.5], [[0, 0], [1, 0], E_CECUM, 2.3]];
series.push({type: 'custom', xAxisIndex: giE, yAxisIndex: giE, silent: true, data: [[0, 0], [1, 0], [2, 0]],
  renderItem: function (params, api) {
    const ed = eEdges[api.value(0)], p = api.coord(ed[0]), q = api.coord(ed[1]);
    return {type: 'line', shape: {x1: p[0], y1: p[1], x2: q[0], y2: q[1]}, style: {stroke: ed[2], lineWidth: ed[3]}};
  }});
const eTickData = [];
[0, 1, 2].forEach(function (k) { eTicks.forEach(function (v) { eTickData.push([k, v]); }); });
series.push({type: 'custom', xAxisIndex: giE, yAxisIndex: giE, silent: true, data: eTickData,
  renderItem: function (params, api) {
    const kind = api.value(0), v = api.value(1);
    const T = api.coord([0.5, 1]), Lv = api.coord([0, 0]), R = api.coord([1, 0]);
    let p, dir, rot;
    if (kind === 0) { p = api.coord(tern(0, 100 - v, v)); dir = [1, 0]; rot = 0; }
    else if (kind === 1) { p = api.coord(tern(v, 0, 100 - v)); dir = unit(T[0] - R[0], T[1] - R[1]); rot = -Math.PI / 3; }
    else { p = api.coord(tern(100 - v, v, 0)); dir = unit(Lv[0] - T[0], Lv[1] - T[1]); rot = Math.PI / 3; }
    const children = [{type: 'line', shape: {x1: p[0], y1: p[1], x2: p[0] + dir[0] * 6, y2: p[1] + dir[1] * 6},
      style: {stroke: '#555', lineWidth: 0.9}}];
    if (eTickLabels.indexOf(v) >= 0) {
      const st = {text: String(v), fill: '#4D4D4D', fontSize: 15, fontFamily: FONT, verticalAlign: 'middle', textVerticalAlign: 'middle'};
      if (kind === 0) {
        children.push({type: 'text', x: p[0] + 8.5, y: p[1], style: Object.assign(st, {align: 'left', textAlign: 'left'})});
      } else {
        const d = kind === 1 ? 22 : 19.5;
        children.push({type: 'text', x: p[0] + dir[0] * d, y: p[1] + dir[1] * d, rotation: rot,
          style: Object.assign(st, {align: 'center', textAlign: 'center'})});
      }
    }
    return {type: 'group', children: children};
  }});
const ePoints = eGenes.map(function (g, i) { return tern(eIleum[i], eCecum[i], eColon[i]).concat([i]); })
  .sort(function (a, b) { return eAbundance[b[2]] - eAbundance[a[2]]; });
series.push({type: 'custom', xAxisIndex: giE, yAxisIndex: giE, silent: true, data: ePoints,
  renderItem: function (params, api) {
    const i = api.value(2), p = api.coord([api.value(0), api.value(1)]);
    return {type: 'circle', shape: {cx: p[0], cy: p[1], r: eSymbolSize(eAbundance[i]) / 2},
      style: {fill: eTypeColor(eType[i]), opacity: 0.88}};
  }});
series.push({type: 'custom', xAxisIndex: giE, yAxisIndex: giE, silent: true, data: ePoints,
  renderItem: function (params, api) {
    const i = api.value(2), p = api.coord([api.value(0), api.value(1)]), o = eLabelOffset[eGenes[i]];
    return {type: 'text', x: p[0] + o[0], y: p[1] + o[1], rotation: o[2] * Math.PI / 180,
      style: {text: eGenes[i], fill: '#111', fontSize: 10.8, fontStyle: 'italic', fontFamily: FONT,
        align: 'center', verticalAlign: 'middle', textAlign: 'center', textVerticalAlign: 'middle'}};
  }});
gText(363.6, 1188.3, 'Ileum', {fill: E_ILEUM, fontSize: 18.5, align: 'center'}, {rotation: Math.PI / 3});
gText(676, 1206.7, 'Colon', {fill: E_COLON, fontSize: 18.5, align: 'center'}, {rotation: -Math.PI / 3});
gText(521, 1453.3, 'Cecum', {fill: E_CECUM, fontSize: 18.5, align: 'center'});
gText(856, 948.3, 'Type', {fontSize: 17.5});
eTypes.forEach(function (t, i) {
  const y = 980.3 + 27.2 * i;
  gCircle(867, y, 3.4, E_TYPE_COLORS[i], 0.9);
  gText(889.3, y, eTypeLegendLabels[i], {fontSize: 15.5});
});
gText(852.7, 1281.7, 'Abundance', {fontSize: 17.5});
eSizeLegend.forEach(function (ab, i) {
  const y = 1314 + 27.2 * i;
  gCircle(866, y, eSymbolSize(ab) / 2, '#F3C37E', 0.9);
  gText(889.3, y, String(ab), {fontSize: 15.5});
});

// ---------------- panel letters, frame, caption ----------------
[['A', 172.7, 36], ['B', 171.7, 466], ['C', 619.9, 36], ['D', 619.1, 466], ['E', 171.1, 979.3]].forEach(function (l) {
  gText(l[1], l[2], l[0], {fontSize: 17.5, fontWeight: 'bold', align: 'center'});
});
graphic.push({type: 'polyline', silent: true, shape: {points: [[8.5, 1727], [8.5, 8.5], [1355, 8.5], [1355, 1727]]},
  style: {stroke: '#5A5A5A', lineWidth: 1.3, fill: null}});
const captionLines = [
  '{b|FIGURE 6 |} Functional annotation of the microbiomes. {b|(A)} Heatmap of the 10 most abundant (based on TPM value) carbohydrate active enzyme (CAZy) families in',
  'any of the groups. Color scale shows the abundance of CAZy enzyme family within each group. Z-score, calculated with the formula {i|z} = ({i|x} \u2212 \u03bc)/\u03c3, where {i|x} is the',
  'log10 of abundance of enzymic families in each group, \u03bc is the mean value of the log10 of abundance in all groups, and \u03c3 is the standard deviation of the log10 of',
  'abundance. {b|(B)} NMDS plot of high and low FE of cecum samples based on the abundance of CAZy families. {b|(C)} LEfSE analysis for KEGG orthology (KO) to',
  'compare the cecum microbiota functional profiles between the high and low FE group. {b|(D)} Heatmap of the 10 most abundant (based on TPM value) antibiotic',
  'resistance genes (ARGs) in any of the groups. {b|(E)} Ternary plot showing the abundance comparison of the 10 most abundant ARGs of each group in the ileum',
  '(green), cecum (brown), and colon (blue). The sum of the abundance for one specific ARG in these three types of gut was set as 100%. The percentage (%) of one',
  'specific ARG in each gut location is equal to its corresponding abundance divided by the abundance sum of this ARG in the three intestinal locations. The symbol',
  'size indicate the total abundance of the ARGs. The symbol color indicated the types of the ARGs.'
];
const CAP_SIZE = 18.1;
captionLines.forEach(function (line, i) {
  gText(24, 1512 + 25.35 * i, line, {fontSize: CAP_SIZE, fill: '#3A3A3A',
    rich: {b: {fontWeight: 'bold', fill: '#000', fontSize: CAP_SIZE, fontFamily: FONT},
      i: {fontStyle: 'italic', fill: '#3A3A3A', fontSize: CAP_SIZE, fontFamily: FONT}}});
});

// ---------------- chart ----------------
const chart = echarts.init(document.getElementById('figure'), null, {renderer: 'canvas', width: 1360, height: 1727});
chart.setOption({
  animation: false,
  backgroundColor: '#FFFFFF',
  textStyle: {fontFamily: FONT},
  grid: grid,
  xAxis: xAxis,
  yAxis: yAxis,
  visualMap: [
    {type: 'continuous', show: false, min: aZscoreRange[0], max: aZscoreRange[1], dimension: 2,
      seriesIndex: aHeatIdx, inRange: {color: RDYLBU}},
    {type: 'continuous', show: false, min: dZscoreRange[0], max: dZscoreRange[1], dimension: 2,
      seriesIndex: dHeatIdx, inRange: {color: RDYLBU}}
  ],
  series: series,
  graphic: graphic
});
</script>
</body>
</html>
